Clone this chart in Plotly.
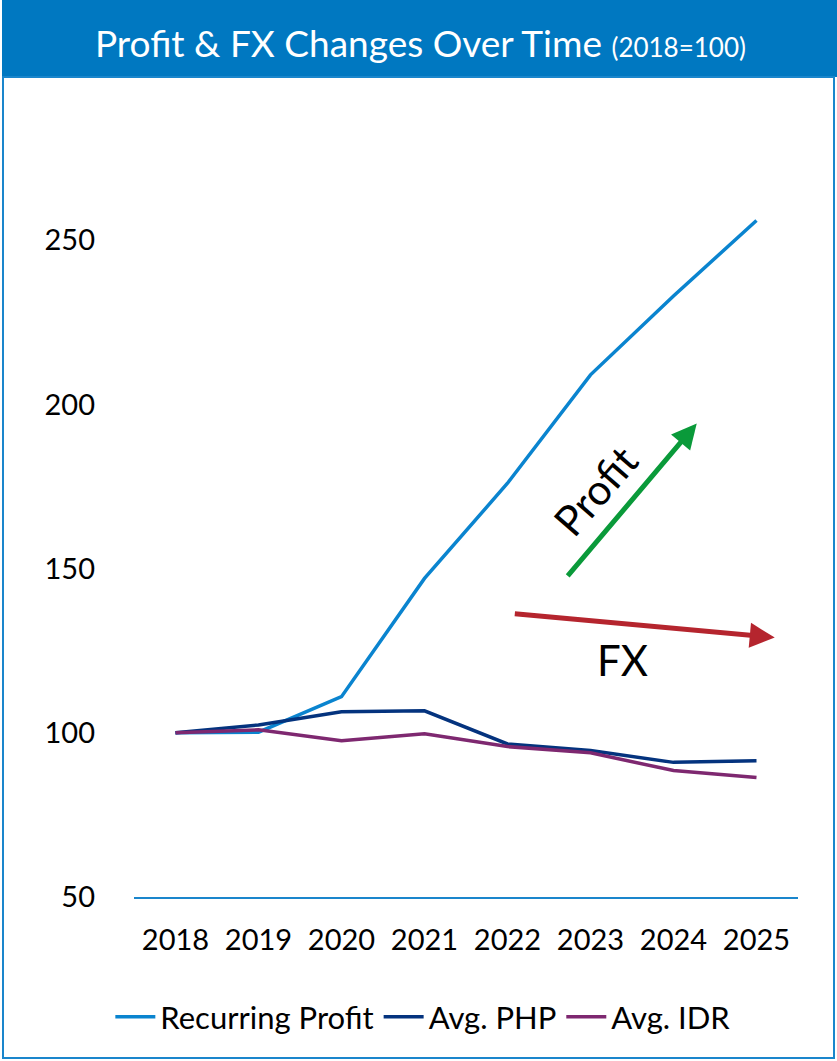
import plotly.graph_objects as go

years = ["2018", "2019", "2020", "2021", "2022", "2023", "2024", "2025"]
recurring_profit = [100, 100.2, 111, 147, 176, 209, 233, 256]
avg_php = [100, 102.4, 106.4, 106.7, 96.6, 94.6, 91.0, 91.5]
avg_idr = [100, 100.9, 97.6, 99.7, 95.8, 93.9, 88.5, 86.4]
y_ticks = [50, 100, 150, 200, 250]

FONT = "Lato"
fig = go.Figure()
series = [("Recurring Profit", recurring_profit, "#0A84CF"),
          ("Avg. PHP", avg_php, "#04337E"),
          ("Avg. IDR", avg_idr, "#7E2870")]
for name, vals, col in series:
    fig.add_trace(go.Scatter(x=years, y=vals, mode="lines", name=name,
                             line=dict(color=col, width=3.5)))

W, H = 837, 1061
L, R, T, B = 134, 39, 76, 164
pw, ph = W - L - R, H - T - B
def px(x):
    return (x - L) / pw
def py(y):
    return (H - B - y) / ph

shapes = [
    dict(type="rect", xref="paper", yref="paper", x0=px(2), x1=px(W), y0=py(77), y1=py(0),
         fillcolor="#0078C1", line=dict(width=0), layer="below"),
    dict(type="rect", xref="paper", yref="paper", x0=px(3), x1=px(834), y0=py(1058), y1=py(77),
         fillcolor="rgba(0,0,0,0)", line=dict(color="#1A86CC", width=2), layer="below"),
]

annotations = [
    dict(xref="paper", yref="paper", x=px(420), y=py(42), xanchor="center", yanchor="middle",
         showarrow=False,
         text="Profit & FX Changes Over Time <span style='font-size:26px'>(2018=100)</span>",
         font=dict(family=FONT, size=37, color="white")),
    # green arrow
    dict(x=6.28, y=194.2, ax=4.71, ay=147.3, xref="x", yref="y", axref="x", ayref="y",
         text="", showarrow=True, arrowhead=2, arrowsize=1, arrowwidth=5, arrowcolor="#0A9A3A"),
    # red arrow
    dict(x=7.22, y=129, ax=4.07, ay=136.3, xref="x", yref="y", axref="x", ayref="y",
         text="", showarrow=True, arrowhead=2, arrowsize=1, arrowwidth=5, arrowcolor="#B5252E"),
    dict(x=5.06, y=174, xref="x", yref="y", text="Profit", showarrow=False, textangle=-49,
         font=dict(family=FONT, size=42, color="black")),
    dict(x=5.39, y=122.3, xref="x", yref="y", text="FX", showarrow=False,
         font=dict(family=FONT, size=42, color="black")),
]

fig.update_layout(
    width=W, height=H,
    margin=dict(l=L, r=R, t=T, b=B),
    paper_bgcolor="white", plot_bgcolor="white",
    font=dict(family=FONT, size=28, color="black"),
    showlegend=True,
    legend=dict(orientation="h", x=0.435, xanchor="center", y=py(1017), yanchor="middle",
                font=dict(family=FONT, size=31, color="black"), itemwidth=40),
    xaxis=dict(range=[-0.5, 7.5], showgrid=False, showline=True, linecolor="#1A86CC",
               linewidth=2, ticks="", ticklabelstandoff=16,
               tickfont=dict(family=FONT, size=29), zeroline=False),
    yaxis=dict(range=[50, 300], tickvals=y_ticks, showgrid=False, showline=False,
               zeroline=False, ticks="", ticklabelstandoff=38, tickfont=dict(family=FONT, size=29)),
    shapes=shapes, annotations=annotations,
)
fig.write_html("out.html", config={"displayModeBar": False},
               post_script="document.body.style.margin='0';")
